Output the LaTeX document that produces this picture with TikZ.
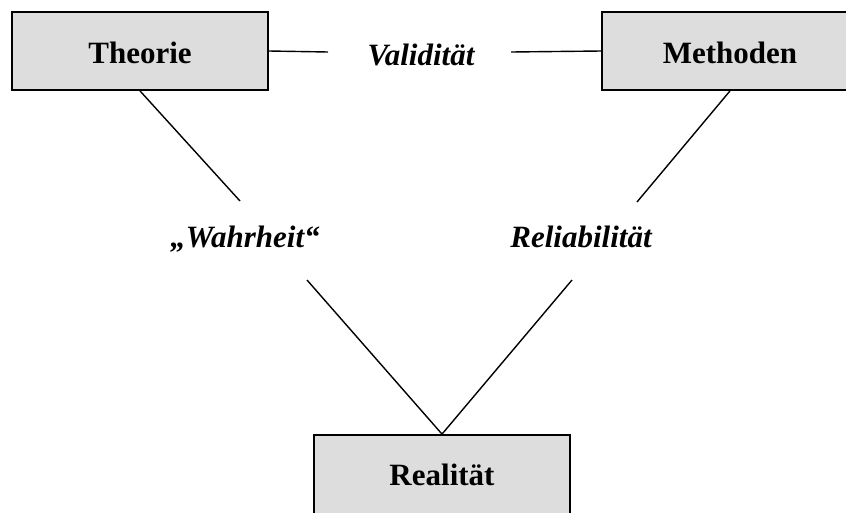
\documentclass[tikz,border=0pt]{standalone}
\usepackage{fontspec}
\setmainfont{Liberation Serif}
\definecolor{boxgray}{RGB}{221,221,221}
\begin{document}
\begin{tikzpicture}[x=1pt,y=-1pt,
  box/.style={draw=black, line width=1.8pt, fill=boxgray, minimum width=256pt, minimum height=78pt, inner sep=0pt,
    text height=24pt, text depth=0pt, font=\fontsize{31}{37}\selectfont\bfseries},
  lbl/.style={anchor=base, inner sep=0pt, font=\fontsize{31}{37}\selectfont\bfseries\itshape},
  conn/.style={draw=black, line width=1.4pt}]
\path[use as bounding box, clip] (0,0) rectangle (846,512);
\node[box] (theorie) at (140,51) {Theorie};
\node[box] (methoden) at (730,51) {Methoden};
\node[box, minimum height=84pt, text height=16pt] (realitaet) at (442,477) {Realität};
\node[lbl] (validitaet) at (421,65) {Validität};
\node[lbl] (wahrheit) at (245,247) {„Wahrheit“};
\node[lbl] (reliab) at (581,247) {Reliabilität};
\coordinate (vl) at (328,52);
\coordinate (vr) at (511,52);
\coordinate (tl) at (240,201);
\coordinate (mr) at (637,202);
\coordinate (wl) at (307,280);
\coordinate (rr) at (572,280);
\draw[conn] (theorie.east) -- (vl);
\draw[conn] (vr) -- (methoden.west);
\draw[conn] (theorie.south) -- (tl);
\draw[conn] (methoden.south) -- (mr);
\draw[conn] (wl) -- (realitaet.north);
\draw[conn] (rr) -- (realitaet.north);
\end{tikzpicture}
\end{document}
